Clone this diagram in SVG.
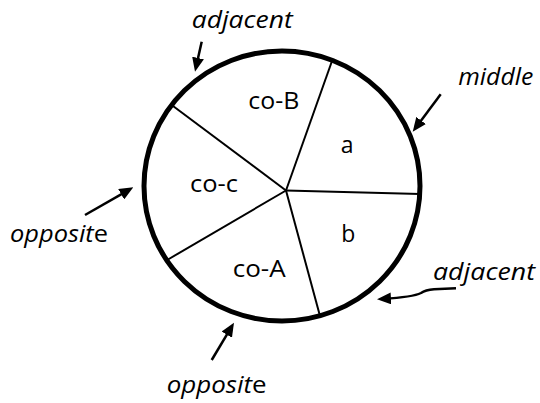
<svg xmlns="http://www.w3.org/2000/svg" width="540" height="403" viewBox="0 0 540 403">
  <style>
    .lbl { font-family: "Open Sans", "Liberation Sans", sans-serif; font-size: 23px; fill: #000; }
    .it { font-family: "Open Sans", "Liberation Sans", sans-serif; font-size: 24px; font-style: italic; fill: #000; }
    .up { font-style: normal; }
    .spoke { stroke: #000; stroke-width: 2; fill: none; }
    .arrow { stroke: #000; stroke-width: 2.5; fill: none; marker-end: url(#ah); }
  </style>
  <defs>
    <marker id="ah" viewBox="0 0 14 12" markerWidth="14" markerHeight="12" refX="8" refY="6" orient="auto" markerUnits="userSpaceOnUse">
      <path d="M0,0 L14,6 L0,12 z" fill="#000"/>
    </marker>
  </defs>
  <rect width="540" height="403" fill="#fff"/>

  <g id="circle">
    <ellipse cx="282" cy="186" rx="138" ry="135" fill="#fff" stroke="#000" stroke-width="5"/>
  </g>

  <g id="spokes">
    <line class="spoke" x1="286" y1="190.5" x2="332" y2="61"/>
    <line class="spoke" x1="286" y1="190.5" x2="173" y2="106"/>
    <line class="spoke" x1="286" y1="190.5" x2="420" y2="194"/>
    <line class="spoke" x1="286" y1="190.5" x2="168" y2="259.5"/>
    <line class="spoke" x1="286" y1="190.5" x2="320" y2="316"/>
  </g>

  <g id="sector-coB"><text class="lbl" x="248.3" y="109.3" textLength="51" lengthAdjust="spacingAndGlyphs">co-B</text></g>
  <g id="sector-a"><text class="lbl" x="347.2" y="153.3" text-anchor="middle">a</text></g>
  <g id="sector-coc"><text class="lbl" x="190" y="191.7" textLength="48" lengthAdjust="spacingAndGlyphs">co-c</text></g>
  <g id="sector-b"><text class="lbl" x="348.3" y="242.3" text-anchor="middle">b</text></g>
  <g id="sector-coA"><text class="lbl" x="232.7" y="276.7" textLength="53" lengthAdjust="spacingAndGlyphs">co-A</text></g>

  <g id="label-adjacent-top"><text class="it" x="191.7" y="28" textLength="101" lengthAdjust="spacingAndGlyphs">adjacent</text></g>
  <g id="label-middle"><text class="it" x="458.3" y="85" textLength="75" lengthAdjust="spacingAndGlyphs">middle</text></g>
  <g id="label-adjacent-right"><text class="it" x="433" y="280" textLength="102" lengthAdjust="spacingAndGlyphs">adjacent</text></g>
  <g id="label-opposite-left"><text class="it" x="10" y="241.7" textLength="98" lengthAdjust="spacingAndGlyphs">opposit<tspan class="up">e</tspan></text></g>
  <g id="label-opposite-bottom"><text class="it" x="166.7" y="392.7" textLength="100" lengthAdjust="spacingAndGlyphs">opposit<tspan class="up">e</tspan></text></g>

  <g id="connectors">
    <line class="arrow" x1="201.7" y1="41.7" x2="196.3" y2="65.8"/>
    <line class="arrow" x1="440.7" y1="94.3" x2="416.3" y2="126.9"/>
    <line class="arrow" x1="85" y1="215" x2="128.1" y2="190.3"/>
    <line class="arrow" x1="211.7" y1="360" x2="230.9" y2="327.8"/>
    <path class="arrow" d="M456,288.3 L434,289.3 C426,290 424,291 421,293 C417,295 405,297.5 383,298.9"/>
  </g>
</svg>
